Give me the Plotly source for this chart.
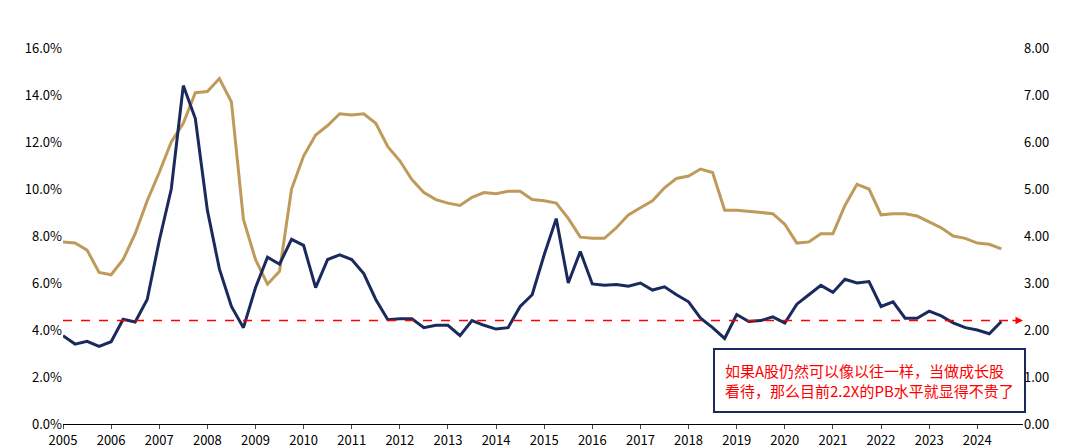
import plotly.graph_objects as go
import numpy as np

x = [2005 + 0.25*i for i in range(79)]
roe = [7.75,7.7,7.4,6.45,6.35,7.0,8.1,9.5,10.7,12.0,12.8,14.1,14.15,14.7,13.7,8.7,7.0,5.95,6.5,10.0,
       11.4,12.3,12.7,13.2,13.15,13.2,12.8,11.8,11.2,10.4,9.85,9.55,9.4,9.3,9.65,9.85,9.8,9.9,9.9,9.55,
       9.5,9.4,8.75,7.95,7.9,7.9,8.35,8.9,9.2,9.5,10.05,10.45,10.55,10.85,10.7,9.1,9.1,9.05,9.0,8.95,
       8.5,7.7,7.75,8.1,8.1,9.3,10.2,10.0,8.9,8.95,8.95,8.85,8.6,8.35,8.0,7.9,7.7,7.65,7.45]
pb = [1.88,1.7,1.76,1.65,1.75,2.23,2.17,2.65,3.9,5.0,7.2,6.5,4.55,3.3,2.5,2.05,2.9,3.55,3.4,3.93,
      3.8,2.9,3.5,3.6,3.5,3.2,2.65,2.22,2.24,2.24,2.05,2.1,2.1,1.88,2.2,2.1,2.02,2.05,2.5,2.75,
      3.6,4.37,3.0,3.67,2.98,2.95,2.97,2.93,3.0,2.85,2.92,2.75,2.6,2.25,2.05,1.82,2.33,2.18,2.2,2.28,
      2.15,2.55,2.75,2.95,2.8,3.08,3.0,3.03,2.5,2.6,2.25,2.25,2.4,2.3,2.15,2.05,2.0,1.92,2.18]
ref_pb = 2.2
years = list(range(2005, 2025))

fig = go.Figure()
fig.add_trace(go.Scatter(x=x, y=roe, name="全部A股（剔除金融石油石化）：ROE_TTM", mode="lines",
                         line=dict(color="#C09A5B", width=3)))
fig.add_trace(go.Scatter(x=x, y=pb, name="万得全A(除金融、石油石化)：PB_LF（右轴）", mode="lines",
                         line=dict(color="#1B2A5C", width=3), yaxis="y2"))
fig.add_shape(type="line", xref="x", yref="y2", x0=2005, x1=2024.8, y0=ref_pb, y1=ref_pb,
              line=dict(color="#FF0000", width=1.5, dash="dash"))
fig.add_annotation(x=2024.95, y=ref_pb, xref="x", yref="y2", ax=-12, ay=0, showarrow=True,
                   arrowhead=2, arrowcolor="#FF0000", arrowwidth=1.5, text="")
fig.add_annotation(x=2021.75, y=0.93, xref="x", yref="y2", showarrow=False,
                   text="如果A股仍然可以像以往一样，当做成长股<br>看待，那么目前2.2X的PB水平就显得不贵了",
                   font=dict(color="#FF0000", size=15), align="left",
                   bordercolor="#1B2A5C", borderwidth=2, borderpad=10, bgcolor="white")
fig.update_layout(
    width=1080, height=447, plot_bgcolor="white", paper_bgcolor="white",
    margin=dict(l=55, r=65, t=40, b=31, autoexpand=False),
    font=dict(family="Noto Sans CJK SC, Arial", size=13, color="#000"),
    legend=dict(orientation="h", x=0.5, xanchor="center", y=1.13, yanchor="middle",
                font=dict(size=14), traceorder="normal"),
    xaxis=dict(range=[2005, 2024.95], tickvals=years, ticktext=[str(y) for y in years],
               showgrid=False, showline=True, linecolor="#000", ticks="outside", ticklen=4),
    yaxis=dict(range=[0, 16], tickvals=list(range(0, 17, 2)),
               ticktext=[f"{v:.1f}%" for v in range(0, 17, 2)], showgrid=False, zeroline=False),
    yaxis2=dict(range=[0, 8], overlaying="y", side="right", tickvals=list(range(0, 9)),
                ticktext=[f"{v:.2f}" for v in range(0, 9)], showgrid=False, zeroline=False),
)
fig.write_html("out.html")
